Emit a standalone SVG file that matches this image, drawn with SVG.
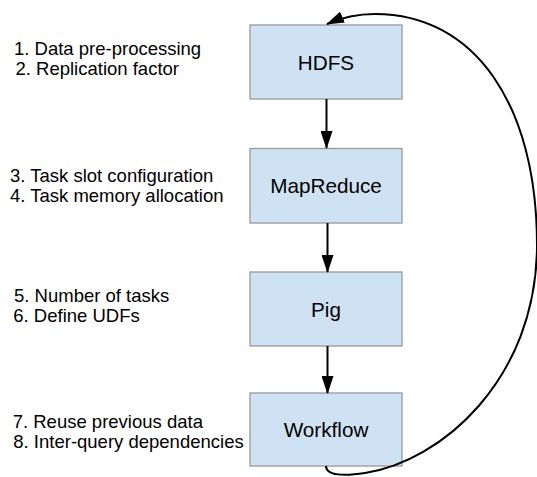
<svg xmlns="http://www.w3.org/2000/svg" width="537" height="477" viewBox="0 0 537 477">
<style>
.box{fill:#cfe2f3;stroke:#999999;stroke-width:1.3}
.lbl{font-family:"Liberation Sans",Arial,sans-serif;font-size:20.7px;fill:#000;text-anchor:middle}
.note{font-family:"Liberation Sans",Arial,sans-serif;font-size:18.5px;fill:#000}
.edge{fill:none;stroke:#000;stroke-width:2}
</style>
<defs>
<marker id="ah" viewBox="0 0 18 12" refX="17" refY="6" markerWidth="18" markerHeight="12" markerUnits="userSpaceOnUse" orient="auto">
<path d="M0,0 L18,6 L0,12 z" fill="#000"/>
</marker>
</defs>
<g id="notes">
<text class="note" x="14" y="55">1. Data pre-processing</text>
<text class="note" x="15.5" y="75">2. Replication factor</text>
<text class="note" x="10" y="181.5">3. Task slot configuration</text>
<text class="note" x="10" y="201.5">4. Task memory allocation</text>
<text class="note" x="14" y="301.5">5. Number of tasks</text>
<text class="note" x="13.3" y="321.5">6. Define UDFs</text>
<text class="note" x="12.7" y="427.5">7. Reuse previous data</text>
<text class="note" x="13.3" y="447.5">8. Inter-query dependencies</text>
</g>
<g id="hdfs">
<rect class="box" x="250" y="25" width="152" height="74"/>
<text class="lbl" x="326" y="69.5">HDFS</text>
</g>
<g id="mapreduce">
<rect class="box" x="250" y="148.5" width="152" height="74.5"/>
<text class="lbl" x="326" y="193">MapReduce</text>
</g>
<g id="pig">
<rect class="box" x="250" y="272" width="152" height="74"/>
<text class="lbl" x="326" y="316.5">Pig</text>
</g>
<g id="workflow">
<rect class="box" x="250" y="393" width="152" height="73"/>
<text class="lbl" x="326" y="437">Workflow</text>
</g>
<g id="connectors">
<path class="edge" d="M326.5,99 L326.5,148" marker-end="url(#ah)"/>
<path class="edge" d="M327.5,223 L327.5,272" marker-end="url(#ah)"/>
<path class="edge" d="M327.5,346 L327.5,393" marker-end="url(#ah)"/>
<path class="edge" d="M326,466 C326,476 345,476 365,473 C440,462 537,380 537,245 C537,105 475,14 375,14 C360,14 345,16 327,24" marker-end="url(#ah)"/>
</g>
</svg>
